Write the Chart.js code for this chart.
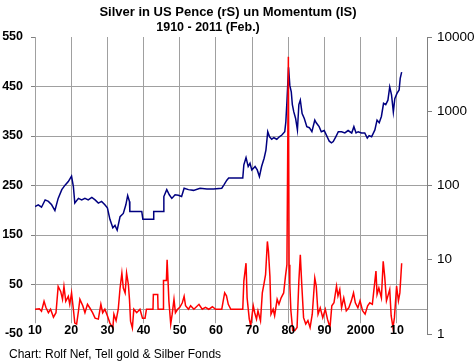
<!DOCTYPE html>
<html>
<head>
<meta charset="utf-8">
<script src="https://cdn.jsdelivr.net/npm/chart.js@4.4.1/dist/chart.umd.min.js"></script>
<style>
  html, body { margin: 0; padding: 0; background: #fff; }
  #wrap { width: 476px; height: 362px; }
</style>
</head>
<body>
<div id="wrap"><canvas id="silverChart" width="476" height="362"></canvas></div>
<script>
// ---- data ----
const silverYears = [1910.0, 1910.9, 1911.8, 1912.8, 1913.7, 1914.6, 1915.5, 1916.4, 1917.4, 1918.3, 1919.2, 1920.1, 1920.6, 1921.0, 1922.0, 1922.9, 1923.8, 1924.7, 1925.7, 1926.6, 1927.5, 1928.4, 1929.3, 1930.0, 1930.7, 1931.5, 1932.1, 1932.7, 1933.5, 1934.4, 1935.1, 1935.6, 1936.1, 1936.2, 1939.5, 1939.8, 1942.7, 1942.8, 1945.4, 1945.6, 1946.4, 1947.1, 1947.8, 1948.7, 1949.6, 1950.5, 1951.2, 1952.4, 1953.8, 1955.6, 1957.5, 1959.3, 1961.6, 1962.2, 1963.0, 1963.5, 1967.4, 1967.7, 1968.3, 1968.9, 1969.4, 1969.9, 1970.8, 1971.4, 1972.0, 1972.6, 1973.3, 1973.8, 1974.3, 1974.8, 1975.4, 1976.0, 1976.8, 1977.5, 1978.2, 1979.0, 1979.3, 1979.6, 1980.05, 1980.4, 1980.8, 1981.1, 1981.5, 1982.0, 1982.5, 1982.9, 1983.3, 1983.8, 1984.4, 1985.1, 1985.8, 1986.5, 1987.3, 1987.7, 1988.5, 1989.1, 1989.9, 1990.5, 1991.3, 1991.9, 1992.4, 1993.1, 1993.8, 1994.7, 1995.6, 1996.5, 1997.5, 1998.1, 1998.7, 1999.3, 2000.2, 2001.1, 2001.8, 2002.3, 2003.0, 2003.9, 2004.5, 2005.1, 2005.7, 2006.3, 2006.9, 2007.5, 2008.0, 2008.5, 2009.0, 2009.4, 2010.0, 2010.6, 2010.9, 2011.3];
const silverCents = [52, 55, 51, 64, 61, 55, 46, 67, 88, 101, 113, 134, 97, 58, 67, 64, 67, 64, 69, 64, 58, 61, 55, 50, 35, 27, 29, 25, 38, 42, 55, 73, 61, 44.6, 44.6, 35, 35, 44.6, 44.6, 71, 88, 75, 67, 75, 74, 71, 92, 88, 86, 92, 90, 90, 92, 102, 118, 126, 126, 190, 237, 180, 199, 162, 180, 162, 132, 180, 233, 300, 530, 453, 420, 440, 420, 453, 478, 530, 720, 1340, 3900, 2230, 1830, 1230, 980, 800, 560, 1230, 1410, 930, 800, 620, 600, 530, 760, 700, 620, 530, 550, 478, 395, 375, 390, 453, 530, 530, 510, 550, 510, 620, 510, 530, 510, 510, 435, 470, 453, 560, 760, 700, 850, 1280, 1230, 1410, 2130, 1660, 980, 1480, 1740, 1940, 2770, 3360];

const momYears = [1910.0, 1911.2, 1911.8, 1912.5, 1913.0, 1913.7, 1914.3, 1915.1, 1915.8, 1916.4, 1917.1, 1917.6, 1918.0, 1918.5, 1919.2, 1919.6, 1920.1, 1920.6, 1921.0, 1921.5, 1922.0, 1922.4, 1923.2, 1923.8, 1924.5, 1925.2, 1925.9, 1926.6, 1927.5, 1928.2, 1928.7, 1929.3, 1930.0, 1930.7, 1931.5, 1931.8, 1932.4, 1933.0, 1933.5, 1934.0, 1934.4, 1934.9, 1935.3, 1935.8, 1936.1, 1936.4, 1936.9, 1937.3, 1938.1, 1939.0, 1939.7, 1940.4, 1940.8, 1942.6, 1942.7, 1943.9, 1944.0, 1945.4, 1945.5, 1946.3, 1946.5, 1947.0, 1947.5, 1947.9, 1948.4, 1948.8, 1949.4, 1950.0, 1950.7, 1951.2, 1951.6, 1952.4, 1953.0, 1953.9, 1955.3, 1956.2, 1957.1, 1958.0, 1959.0, 1959.9, 1961.6, 1962.0, 1962.4, 1962.9, 1963.4, 1964.1, 1967.4, 1967.7, 1968.3, 1968.6, 1969.2, 1969.6, 1970.3, 1970.7, 1971.2, 1971.6, 1972.3, 1972.8, 1973.3, 1973.7, 1974.2, 1974.5, 1974.9, 1975.2, 1975.8, 1976.2, 1976.9, 1977.4, 1978.0, 1978.7, 1979.2, 1979.6, 1980.0, 1980.2, 1980.4, 1980.7, 1981.2, 1981.8, 1982.4, 1982.9, 1983.3, 1983.7, 1984.2, 1984.8, 1985.4, 1986.0, 1986.6, 1987.3, 1987.7, 1988.2, 1988.8, 1989.5, 1990.2, 1990.8, 1991.5, 1992.0, 1992.6, 1993.3, 1993.7, 1994.2, 1994.7, 1995.3, 1996.0, 1996.7, 1997.4, 1998.0, 1998.5, 1999.2, 1999.8, 2000.5, 2001.2, 2001.9, 2002.5, 2003.2, 2004.2, 2004.5, 2005.0, 2005.7, 2006.2, 2006.6, 2007.1, 2007.5, 2008.0, 2008.4, 2008.9, 2009.3, 2009.9, 2010.4, 2010.8, 2011.3];
const momValues = [0, 1, -4, 16, 4, -7, 0, -16, -7, 46, 36, 20, 46, 16, 26, 10, 33, 0, -28, -30, -4, 20, 7, -7, 10, 2, -7, -18, -20, 10, -7, 0, -13, -28, -38, -10, -23, 0, 43, 73, 43, 33, 73, 50, 20, -24, -38, 0, -7, 0, -18, -18, 0, 0, 30, 30, 0, 0, 58, 58, 100, 16, -30, -10, 20, -7, 0, 4, 13, 26, 7, 0, 7, 0, 10, 0, 4, 0, 5, 0, 0, 17, 33, 27, 10, 0, 0, 57, 93, 23, -20, -33, 7, -7, -20, -3, -23, 33, 53, 70, 137, 117, 67, -10, 0, -13, 20, 10, 23, 33, 67, 90, 510, 90, 50, -3, -43, -43, -37, 57, 110, 50, -17, -30, -23, -37, -10, 63, 47, -10, 3, -17, 0, -20, -37, 7, 13, 47, 27, 40, 3, 23, -3, 3, 17, 33, 13, 3, 17, -3, -10, 7, 13, 10, 77, 30, 43, 23, 97, 67, 17, 27, 40, -13, -37, -17, 47, 17, 33, 93];

const decadeTicks = [1910, 1920, 1930, 1940, 1950, 1960, 1970, 1980, 1990, 2000, 2010];
const decadeLabels = ["10", "20", "30", "40", "50", "60", "70", "80", "90", "2000", "10"];
const leftTicks = [-50, 0, 50, 150, 250, 350, 450, 550];
const leftLabels = [-50, 50, 150, 250, 350, 450, 550];
const rightTicks = [1, 10, 100, 1000, 10000];

const FONT = "'Liberation Sans', Arial, sans-serif";
const GRID = "#a0a0a0";

// x labels sit under the zero line, with a white box behind them
const xLabelPlugin = {
  id: "xLabels",
  beforeDatasetsDraw(chart) {
    const ctx = chart.ctx, xs = chart.scales.x, y0 = chart.scales.yL.getPixelForValue(0);
    ctx.save();
    ctx.font = "bold 12.5px " + FONT;
    ctx.fillStyle = "#fff";
    decadeTicks.forEach((v, i) => {
      const w = ctx.measureText(decadeLabels[i]).width;
      ctx.fillRect(xs.getPixelForValue(v) - w / 2 - 1, y0 + 14, w + 2, 12);
    });
    ctx.restore();
  },
  afterDatasetsDraw(chart) {
    const ctx = chart.ctx, xs = chart.scales.x, y0 = chart.scales.yL.getPixelForValue(0);
    ctx.save();
    ctx.font = "bold 12.5px " + FONT;
    ctx.fillStyle = "#000";
    ctx.textAlign = "center";
    ctx.textBaseline = "alphabetic";
    decadeTicks.forEach((v, i) => {
      ctx.fillText(decadeLabels[i], xs.getPixelForValue(v), y0 + 25);
    });
    ctx.restore();
  },
  afterDraw(chart) {
    const ctx = chart.ctx;
    ctx.save();
    ctx.fillStyle = "#000";
    ctx.textAlign = "center";
    ctx.font = "bold 13px " + FONT;
    ctx.fillText("Silver in US Pence (rS) un Momentum (lS)", 228, 15.5);
    ctx.font = "bold 12.5px " + FONT;
    ctx.fillText("1910 - 2011 (Feb.)", 208, 31);
    ctx.textAlign = "left";
    ctx.font = "12px " + FONT;
    ctx.fillText("Chart: Rolf Nef, Tell gold & Silber Fonds", 9, 358);
    ctx.restore();
  }
};

const ctx = document.getElementById("silverChart").getContext("2d");
new Chart(ctx, {
  type: "line",
  data: {
    datasets: [
      {
        label: "Momentum",
        data: momYears.map((x, i) => ({ x: x, y: momValues[i] })),
        yAxisID: "yL",
        borderColor: "#ff0000",
        borderWidth: 1.5,
        pointRadius: 0,
        tension: 0
      },
      {
        label: "Silber",
        data: silverYears.map((x, i) => ({ x: x, y: silverCents[i] })),
        yAxisID: "yR",
        borderColor: "#000080",
        borderWidth: 1.5,
        pointRadius: 0,
        tension: 0
      }
    ]
  },
  options: {
    responsive: false,
    animation: false,
    layout: { padding: { top: 37, bottom: 28, left: 0, right: 0 } },
    plugins: { legend: { display: false }, tooltip: { enabled: false } },
    scales: {
      x: {
        type: "linear",
        min: 1910,
        max: 2018.3,
        afterBuildTicks: s => { s.ticks = decadeTicks.map(v => ({ value: v })); },
        afterFit: s => { s.height = 0; },
        ticks: { display: false },
        grid: { color: GRID, lineWidth: 1, drawTicks: false },
        border: { display: false }
      },
      yL: {
        position: "left",
        min: -50,
        max: 550,
        afterBuildTicks: s => { s.ticks = leftTicks.map(v => ({ value: v })); },
        afterFit: s => { s.width = 35; },
        ticks: {
          callback: v => (leftLabels.includes(v) ? String(v) : ""),
          font: { family: FONT, size: 12.5, weight: "bold" },
          color: "#000",
          padding: 8
        },
        grid: {
          color: c => (c.tick && (c.tick.value === -50 || c.tick.value === 550) ? "rgba(0,0,0,0)" : GRID),
          tickColor: c => (c.tick && c.tick.value !== 0 ? "#808080" : "rgba(0,0,0,0)"),
          tickLength: 4,
          lineWidth: 1
        },
        border: { display: true, color: GRID }
      },
      yR: {
        type: "logarithmic",
        position: "right",
        min: 1,
        max: 10000,
        afterBuildTicks: s => { s.ticks = rightTicks.map(v => ({ value: v })); },
        afterFit: s => { s.width = 49; },
        ticks: {
          callback: v => String(v),
          autoSkip: false,
          font: { family: FONT, size: 13.5 },
          color: "#000",
          padding: 5
        },
        grid: { drawOnChartArea: false, tickLength: 5, tickColor: "#808080" },
        border: { display: true, color: "#808080" }
      }
    }
  },
  plugins: [xLabelPlugin]
});
</script>
</body>
</html>
